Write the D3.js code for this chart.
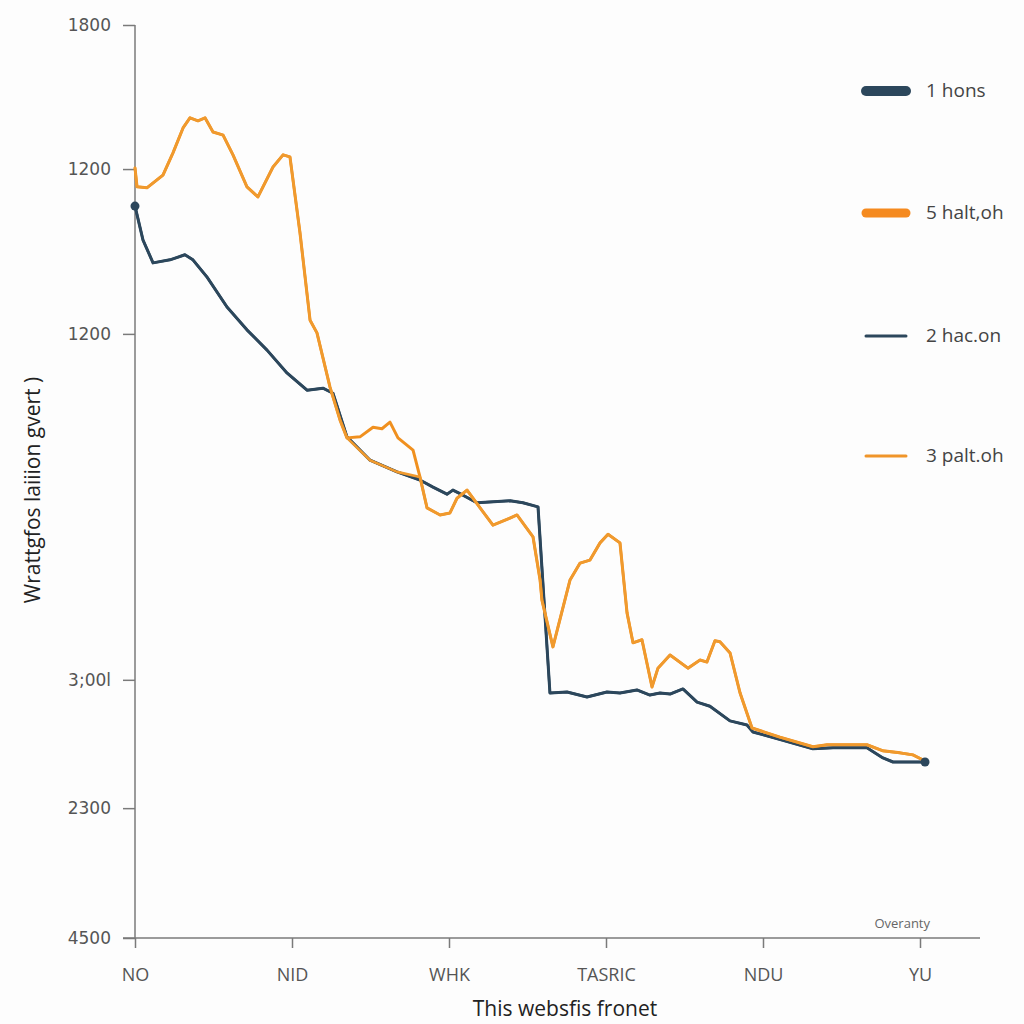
<!DOCTYPE html>
<html><head><meta charset="utf-8">
<script src="https://cdn.jsdelivr.net/npm/d3@7"></script>
<style>
html,body{margin:0;padding:0;background:#fdfdfd;}
svg{display:block;}
text{font-family:"Open Sans","Liberation Sans",sans-serif;}
</style></head>
<body><svg id="c" width="1024" height="1024"></svg>
<script>
// ---- data ----
const categories = ["NO","NID","WHK","TASRIC","NDU","YU"];
const yTickValues = [0, 256, 509, 1191, 1516, 1800];
const yTickLabels = ["4500","2300","3;00l","1200","1200","1800"];
const seriesNames = ["1 hons","5 halt,oh","2 hac.on","3 palt.oh"];

// x = fractional category index, y = value
const hons = [[0,1443],[0.051,1376],[0.115,1331],[0.223,1337],[0.318,1347],[0.369,1337],[0.459,1303],[0.586,1244],[0.713,1199],[0.841,1159],[0.968,1114],[1.096,1080],[1.197,1084],[1.261,1074],[1.35,988],[1.497,942],[1.669,919],[1.815,903],[1.898,889],[1.987,875],[2.025,883],[2.089,873],[2.178,858],[2.389,862],[2.471,858],[2.567,850],[2.643,483],[2.752,485],[2.879,475],[3.006,485],[3.089,483],[3.197,489],[3.28,479],[3.344,483],[3.408,481],[3.49,491],[3.58,465],[3.662,457],[3.79,428],[3.898,420],[3.936,406],[4.127,390],[4.318,373],[4.446,375],[4.662,375],[4.764,355],[4.828,347],[5.032,347]];
const hacon = [[0,1443],[0.051,1376],[0.115,1331],[0.223,1337],[0.318,1347],[0.369,1337],[0.459,1303],[0.586,1244],[0.713,1199],[0.841,1159],[0.968,1114],[1.096,1080],[1.197,1084],[1.261,1074],[1.35,988],[1.497,942],[1.669,919],[1.815,903],[1.898,889],[1.987,875],[2.025,883],[2.089,873],[2.178,858],[2.389,862],[2.471,858],[2.567,850],[2.643,483],[2.752,485],[2.879,475],[3.006,485],[3.089,483],[3.197,489],[3.28,479],[3.344,483],[3.408,481],[3.49,491],[3.58,465],[3.662,457],[3.79,428],[3.898,420],[3.936,406],[4.127,390],[4.318,373],[4.446,375],[4.662,375],[4.764,355],[4.828,347],[5.032,347]];
const haltoh = [[0,1518],[0.013,1481],[0.076,1479],[0.178,1504],[0.242,1548],[0.306,1597],[0.35,1617],[0.401,1611],[0.446,1617],[0.497,1589],[0.561,1583],[0.624,1544],[0.713,1481],[0.783,1461],[0.879,1520],[0.943,1544],[0.987,1540],[1.051,1390],[1.115,1218],[1.159,1193],[1.242,1086],[1.306,1021],[1.35,986],[1.433,988],[1.516,1007],[1.573,1004],[1.624,1017],[1.675,986],[1.771,962],[1.815,909],[1.86,848],[1.943,834],[2.006,838],[2.051,867],[2.115,883],[2.217,840],[2.28,814],[2.389,828],[2.433,834],[2.535,791],[2.58,706],[2.592,666],[2.662,574],[2.771,706],[2.834,739],[2.898,745],[2.962,779],[3.013,796],[3.089,779],[3.134,641],[3.172,582],[3.229,588],[3.293,495],[3.331,532],[3.408,558],[3.522,532],[3.599,548],[3.643,544],[3.694,586],[3.726,584],[3.79,562],[3.854,483],[3.93,414],[4.108,396],[4.318,377],[4.408,381],[4.662,381],[4.764,369],[4.873,365],[4.955,361],[5.032,349]];
const paltoh = [[0,1518],[0.013,1481],[0.076,1479],[0.178,1504],[0.242,1548],[0.306,1597],[0.35,1617],[0.401,1611],[0.446,1617],[0.497,1589],[0.561,1583],[0.624,1544],[0.713,1481],[0.783,1461],[0.879,1520],[0.943,1544],[0.987,1540],[1.051,1390],[1.115,1218],[1.159,1193],[1.242,1086],[1.306,1021],[1.35,986],[1.497,942],[1.669,919],[1.815,909],[1.86,848],[1.943,834],[2.006,838],[2.051,867],[2.115,883],[2.217,840],[2.28,814],[2.389,828],[2.433,834],[2.535,791],[2.58,706],[2.592,666],[2.662,574],[2.771,706],[2.834,739],[2.898,745],[2.962,779],[3.013,796],[3.089,779],[3.134,641],[3.172,582],[3.229,588],[3.293,495],[3.331,532],[3.408,558],[3.522,532],[3.599,548],[3.643,544],[3.694,586],[3.726,584],[3.79,562],[3.854,483],[3.93,414],[4.108,396],[4.318,377],[4.408,381],[4.662,381],[4.764,369],[4.873,365],[4.955,361],[5.032,349]];

// ---- chart ----
const svg = d3.select("#c");
const x = d3.scaleLinear().domain([0,5]).range([135,920]);
const xCat = d3.scalePoint().domain(categories).range([135,920]);
const y = d3.scaleLinear().domain([0,1800]).range([938,25]);

const axisColor = "#7a7a7a", labelColor = "#555";

// y axis
const yAxis = svg.append("g").attr("transform","translate(135,0)")
  .call(d3.axisLeft(y).tickValues(yTickValues).tickSize(12).tickPadding(12)
    .tickFormat((d,i)=>yTickLabels[i]));
yAxis.select(".domain").attr("stroke",axisColor).attr("stroke-width",1.5).attr("d","M0,25V938");
yAxis.selectAll(".tick line").attr("stroke",axisColor).attr("stroke-width",1.5);
yAxis.selectAll(".tick text").attr("fill",labelColor).style("font-size","17px").style("font-family","'DejaVu Sans',sans-serif");

// x axis
const xAxis = svg.append("g").attr("transform","translate(0,938)")
  .call(d3.axisBottom(xCat).tickSize(10).tickPadding(20));
xAxis.select(".domain").attr("stroke",axisColor).attr("stroke-width",1.5).attr("d","M123,0H980");
xAxis.selectAll(".tick line").attr("stroke",axisColor).attr("stroke-width",1.5);
xAxis.selectAll(".tick text").attr("fill",labelColor).style("font-size","18px").style("font-family","'Open Sans',sans-serif");

// titles
svg.append("text").attr("x",565).attr("y",1016).attr("text-anchor","middle")
  .attr("fill","#222").style("font-size","21px").text("This websfis fronet");
svg.append("text").attr("transform","translate(40,490) rotate(-90)").attr("text-anchor","middle")
  .attr("fill","#222").style("font-size","21px").text("Wrattgfos laiiion gvert )");
svg.append("text").attr("x",930).attr("y",928).attr("text-anchor","end")
  .attr("fill","#666").style("font-size","13px").text("Overanty");

// lines
const line = d3.line().x(d=>x(d[0])).y(d=>y(d[1])).curve(d3.curveLinear);
const series = [
  {name:seriesNames[2], data:hacon, color:"#2e4a5e", w:2.5},
  {name:seriesNames[0], data:hons, color:"#2c475c", w:3},
  {name:seriesNames[1], data:haltoh, color:"#f0901f", w:3},
  {name:seriesNames[3], data:paltoh, color:"#f09a2e", w:2.6}
];
svg.append("g").selectAll("path").data(series).join("path")
  .attr("d",d=>line(d.data)).attr("fill","none")
  .attr("stroke",d=>d.color).attr("stroke-width",d=>d.w)
  .attr("stroke-linejoin","round").attr("stroke-linecap","round");

// end dots
svg.append("g").selectAll("circle").data([hons[0], hons[hons.length-1]]).join("circle")
  .attr("cx",d=>x(d[0])).attr("cy",d=>y(d[1])).attr("r",4.5).attr("fill","#2c475c");

// legend
const legend = [
  {name:seriesNames[0], color:"#2c475c", w:10, y:91},
  {name:seriesNames[1], color:"#f58a1f", w:9, y:213},
  {name:seriesNames[2], color:"#2c475c", w:3, y:336},
  {name:seriesNames[3], color:"#f0952a", w:3, y:456}
];
const lg = svg.append("g").selectAll("g").data(legend).join("g");
lg.append("line").attr("x1",866).attr("x2",906).attr("y1",d=>d.y).attr("y2",d=>d.y)
  .attr("stroke",d=>d.color).attr("stroke-width",d=>d.w).attr("stroke-linecap","round");
lg.append("text").attr("x",926).attr("y",d=>d.y+6).attr("fill","#444")
  .style("font-size","19px").text(d=>d.name);
</script></body></html>
